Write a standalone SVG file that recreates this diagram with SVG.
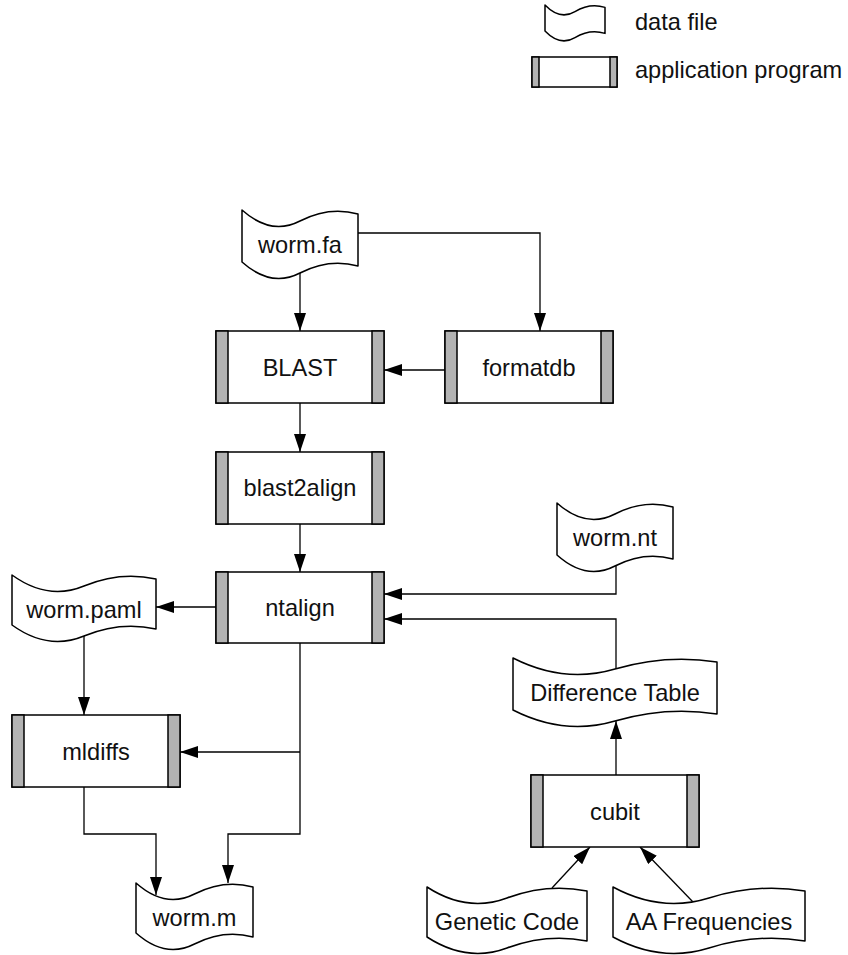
<svg xmlns="http://www.w3.org/2000/svg" width="848" height="955" viewBox="0 0 848 955">
<style>
.data{fill:#fff;stroke:#000;stroke-width:1.5;stroke-linejoin:round}
.box{fill:#fff;stroke:#000;stroke-width:1.5}
.bar{fill:#b3b3b3;stroke:#000;stroke-width:1.5}
.lbl{font-family:"Liberation Sans",Arial,Helvetica,sans-serif;font-size:23.6px;fill:#111;text-anchor:middle}
.leg{font-family:"Liberation Sans",Arial,Helvetica,sans-serif;font-size:23.6px;fill:#111}
.con{fill:none;stroke:#000;stroke-width:1.3}
</style>
<defs>
<marker id="ah" markerUnits="userSpaceOnUse" markerWidth="18" markerHeight="12" refX="18" refY="6" orient="auto">
<path d="M0,0 L18,6 L0,12 Z" fill="#000"/>
</marker>
</defs>

<g id="legend">
<path class="data" d="M545,5 Q560,20.6 575,11.6 T605,7.4 L605,33.4 Q590,28.6 575,37.6 T545,31 Z"/>
<text class="leg" x="635" y="30">data file</text>
<rect class="box" x="532" y="57" width="85" height="30"/>
<rect class="bar" x="532" y="57" width="7" height="30"/>
<rect class="bar" x="610" y="57" width="7" height="30"/>
<text class="leg" x="635" y="78">application program</text>
</g>

<g id="connectors">
<path class="con" d="M300,273 V331" marker-end="url(#ah)"/>
<path class="con" d="M358,233 H540 V331" marker-end="url(#ah)"/>
<path class="con" d="M445,370 H384" marker-end="url(#ah)"/>
<path class="con" d="M300,403 V452" marker-end="url(#ah)"/>
<path class="con" d="M300,524 V572" marker-end="url(#ah)"/>
<path class="con" d="M216,607 H156" marker-end="url(#ah)"/>
<path class="con" d="M616,566 V594 H384" marker-end="url(#ah)"/>
<path class="con" d="M616,669 V619 H384" marker-end="url(#ah)"/>
<path class="con" d="M84,636 V715" marker-end="url(#ah)"/>
<path class="con" d="M300,643 V834 H228 V883" marker-end="url(#ah)"/>
<path class="con" d="M300,752 H180" marker-end="url(#ah)"/>
<path class="con" d="M84,787 V834 H156 V895" marker-end="url(#ah)"/>
<path class="con" d="M616,775 V721" marker-end="url(#ah)"/>
<path class="con" d="M552,888 L590,847" marker-end="url(#ah)"/>
<path class="con" d="M693,902 L640,847" marker-end="url(#ah)"/>
</g>

<g id="worm_fa">
<path class="data" d="M242,210 Q271,236 300,221 T358,214 L358,266 Q329,258 300,273 T242,262 Z"/>
<text class="lbl" x="300" y="253">worm.fa</text>
</g>

<g id="BLAST">
<rect class="box" x="216" y="331" width="168" height="72"/>
<rect class="bar" x="216" y="331" width="12" height="72"/>
<rect class="bar" x="372" y="331" width="12" height="72"/>
<text class="lbl" x="300" y="375.5">BLAST</text>
</g>

<g id="formatdb">
<rect class="box" x="445" y="331" width="168" height="72"/>
<rect class="bar" x="445" y="331" width="12" height="72"/>
<rect class="bar" x="601" y="331" width="12" height="72"/>
<text class="lbl" x="529" y="375.5">formatdb</text>
</g>

<g id="blast2align">
<rect class="box" x="216" y="452" width="168" height="72"/>
<rect class="bar" x="216" y="452" width="12" height="72"/>
<rect class="bar" x="372" y="452" width="12" height="72"/>
<text class="lbl" x="300" y="496">blast2align</text>
</g>

<g id="ntalign">
<rect class="box" x="216" y="572" width="168" height="71"/>
<rect class="bar" x="216" y="572" width="12" height="71"/>
<rect class="bar" x="372" y="572" width="12" height="71"/>
<text class="lbl" x="300" y="616">ntalign</text>
</g>

<g id="worm_nt">
<path class="data" d="M557,503 Q586,529 615,514 T673,507 L673,559 Q644,551 615,566 T557,555 Z"/>
<text class="lbl" x="615" y="546">worm.nt</text>
</g>

<g id="worm_paml">
<path class="data" d="M12,575 Q48,601 84,586 T156,579 L156,629 Q120,621 84,636 T12,625 Z"/>
<text class="lbl" x="84" y="618">worm.paml</text>
</g>

<g id="difference_table">
<path class="data" d="M513,658 Q564,684 615,669 T717,662 L717,714 Q666,706 615,721 T513,710 Z"/>
<text class="lbl" x="615" y="701">Difference Table</text>
</g>

<g id="mldiffs">
<rect class="box" x="12" y="715" width="168" height="72"/>
<rect class="bar" x="12" y="715" width="12" height="72"/>
<rect class="bar" x="168" y="715" width="12" height="72"/>
<text class="lbl" x="96" y="759.5">mldiffs</text>
</g>

<g id="cubit">
<rect class="box" x="531" y="775" width="168" height="72"/>
<rect class="bar" x="531" y="775" width="12" height="72"/>
<rect class="bar" x="687" y="775" width="12" height="72"/>
<text class="lbl" x="615" y="819.5">cubit</text>
</g>

<g id="worm_m">
<path class="data" d="M136,883 Q165.25,909 194.5,894 T253,887 L253,937 Q223.75,929 194.5,944 T136,933 Z"/>
<text class="lbl" x="194.5" y="926">worm.m</text>
</g>

<g id="genetic_code">
<path class="data" d="M427,887 Q467,913 507,898 T587,891 L587,941 Q547,933 507,948 T427,937 Z"/>
<text class="lbl" x="507" y="930">Genetic Code</text>
</g>

<g id="aa_frequencies">
<path class="data" d="M613,887 Q661,913 709,898 T805,891 L805,941 Q757,933 709,948 T613,937 Z"/>
<text class="lbl" x="709" y="930">AA Frequencies</text>
</g>
</svg>
